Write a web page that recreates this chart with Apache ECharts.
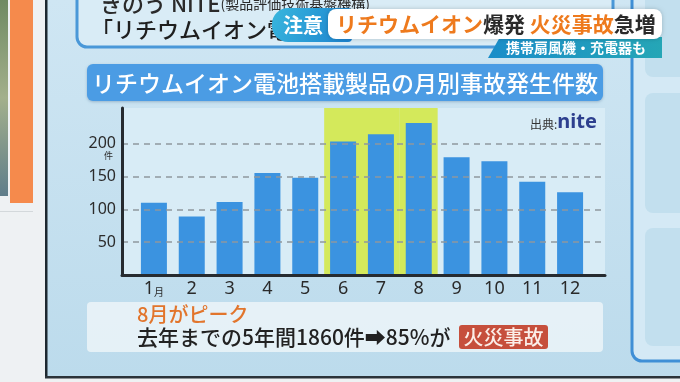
<!DOCTYPE html>
<html><head><meta charset="utf-8">
<script src="https://cdn.jsdelivr.net/npm/echarts@6/dist/echarts.min.js"></script>
<style>html,body{margin:0;padding:0;background:#eef1f3}#c{width:680px;height:382px}</style>
</head><body><div id="c"></div>
<script>
// ---- data ----
const months = ['1','2','3','4','5','6','7','8','9','10','11','12'];
const incidents = [110, 89, 111, 155, 148, 203, 214, 231, 179, 173, 142, 126];
const yTicks = [50, 100, 150, 200];
const yUnit = '件';
const yMax = 254;
const highlightMonths = ['6','7','8'];
const chartTitle = 'リチウムイオン電池搭載製品の月別事故発生件数';
const sourceLabel = '出典:';
const sourceName = 'nite';
const noteHead = '8月がピーク';
const noteBody = '去年までの5年間1860件➡85%が';
const noteTag = '火災事故';
const topLine1a = 'きのう NITE';
const topLine1b = '(製品評価技術基盤機構)';
const topLine2 = '「リチウムイオン電池';
const alertTag = '注意';
const headlineParts = [['o','リチウムイオン'],['d','爆発 '],['o','火災事故'],['d','急増']];
const subHeadline = '携帯扇風機・充電器も';

const JP = '"Noto Sans CJK JP", "Noto Sans", "DejaVu Sans", sans-serif';
const NUM = '"Noto Sans", "Noto Sans CJK JP", sans-serif';

const chart = echarts.init(document.getElementById('c'), null, {renderer:'canvas'});

const bg = [
  {type:'rect', z:-100, shape:{x:0,y:0,width:680,height:382}, style:{fill:'#eef1f3'}},
  {type:'rect', z:-99, shape:{x:0,y:0,width:8,height:196}, style:{fill:new echarts.graphic.LinearGradient(0,0,0,1,[{offset:0,color:'#6f8a62'},{offset:0.5,color:'#a3b08c'},{offset:1,color:'#5f7d8a'}])}},
  {type:'rect', z:-99, shape:{x:10,y:0,width:23,height:203}, style:{fill:'#f58a4c'}},
  {type:'rect', z:-99, shape:{x:0,y:211,width:33,height:1}, style:{fill:'#d3d8db'}},
  {type:'rect', z:-98, shape:{x:46,y:0,width:634,height:377}, style:{fill:new echarts.graphic.LinearGradient(0,0,0,1,[{offset:0,color:'#cfe6f3'},{offset:1,color:'#bcdbec'}])}},
  {type:'rect', z:-97, shape:{x:45,y:0,width:2.5,height:378}, style:{fill:'#1d2830'}},
  {type:'rect', z:-97, shape:{x:45,y:376,width:635,height:2.5}, style:{fill:'#2b3339'}},
  // right panel
  {type:'rect', z:-96, shape:{x:632,y:-20,width:80,height:381,r:10}, style:{fill:'#d4e9f5', stroke:'#3f8fd6', lineWidth:3}},
  {type:'rect', z:-95, shape:{x:645,y:-10,width:50,height:87,r:8}, style:{fill:'#c2dfee'}},
  {type:'rect', z:-95, shape:{x:645,y:93,width:50,height:120,r:8}, style:{fill:'#c2dfee'}},
  {type:'rect', z:-95, shape:{x:645,y:228,width:50,height:118,r:8}, style:{fill:'#c2dfee'}},
  // top box
  {type:'rect', z:-96, shape:{x:77,y:-30,width:536,height:77,r:10}, style:{fill:'#d9ecf6', stroke:'#4a98d8', lineWidth:3}},
  {type:'text', z:-94, x:100, y:4, style:{text:'{a|'+topLine1a+'}{b|'+topLine1b+'}', verticalAlign:'middle', align:'left', rich:{a:{fontSize:22, fontWeight:500, fontFamily:JP, fill:'#2a2a2a'}, b:{fontSize:14, fontFamily:JP, fill:'#2a2a2a'}}}},
  {type:'text', z:-94, x:91, y:30, style:{text:topLine2, fontSize:22, fontWeight:500, fontFamily:JP, fill:'#1f1f1f', align:'left', verticalAlign:'middle'}},
  // title bar
  {type:'rect', z:-90, shape:{x:87,y:64,width:516,height:37,r:6}, style:{fill:'#4b9ce4', shadowBlur:3, shadowColor:'rgba(0,40,90,0.25)', shadowOffsetY:1}},
  {type:'text', z:-89, x:345, y:83, style:{text:chartTitle, fontSize:23, fontWeight:500, fontFamily:JP, fill:'#ffffff', align:'center', verticalAlign:'middle'}},
  // note box
  {type:'rect', z:-90, shape:{x:87,y:302,width:516,height:50,r:4}, style:{fill:'rgba(236,244,248,0.85)'}},
  {type:'text', z:-89, x:137, y:314, style:{text:noteHead, fontSize:20, fontWeight:500, fontFamily:JP, fill:'#e2752c', align:'left', verticalAlign:'middle'}},
  {type:'text', z:-89, x:137, y:337, style:{text:noteBody, fontSize:21, fontWeight:500, fontFamily:JP, fill:'#222', align:'left', verticalAlign:'middle'}},
  {type:'rect', z:-89, shape:{x:459,y:325,width:89,height:24,r:3}, style:{fill:'#c64f3c'}},
  {type:'text', z:-88, x:503.5, y:337, style:{text:noteTag, fontSize:20, fontWeight:500, fontFamily:JP, fill:'#fbeee8', align:'center', verticalAlign:'middle'}},
  // source
  {type:'text', z:50, x:530, y:122, style:{text:'{a|'+sourceLabel+'}{b|'+sourceName+'}', align:'left', verticalAlign:'middle', rich:{a:{fontSize:12, fontFamily:JP, fill:'#333', padding:[4,0,0,0]}, b:{fontSize:20, fontWeight:'bold', fontFamily:NUM, fill:'#2d3f8e'}}}},
  // overlay headline
  {type:'rect', z:100, shape:{x:272,y:8,width:80,height:34,r:[16,4,4,16]}, style:{fill:new echarts.graphic.LinearGradient(0,0,1,1,[{offset:0,color:'#38b6dd'},{offset:1,color:'#1c82cf'}])}},
  {type:'text', z:101, x:303, y:25, style:{text:alertTag, fontSize:20, fontWeight:'bold', fontFamily:JP, fill:'#fff', align:'center', verticalAlign:'middle'}},
  {type:'polygon', z:100, shape:{points:[[500,37],[662,37],[662,58],[488,58]]}, style:{fill:new echarts.graphic.LinearGradient(0,0,1,0,[{offset:0,color:'#1a8dc9'},{offset:1,color:'#25a6b6'}])}},
  {type:'text', z:101, x:576, y:48, style:{text:subHeadline, fontSize:14, fontWeight:'bold', fontFamily:JP, fill:'#fff', align:'center', verticalAlign:'middle'}},
  {type:'rect', z:102, shape:{x:328,y:9,width:334,height:30,r:8}, style:{fill:'#ffffff', shadowBlur:4, shadowColor:'rgba(0,0,0,0.2)'}},
  {type:'text', z:103, x:336, y:24, style:{text:headlineParts.map(p=>'{'+p[0]+'|'+p[1]+'}').join(''), align:'left', verticalAlign:'middle', rich:{o:{fontSize:21, fontWeight:'bold', fontFamily:JP, fill:'#ee7a1d'}, d:{fontSize:21, fontWeight:'bold', fontFamily:JP, fill:'#2a2a2a'}}}}
];

const axisColor = '#262b30';

const option = {
  animation: false,
  backgroundColor: 'transparent',
  graphic: {elements: bg},
  grid: [
    {left:122, right:75, top:108, bottom:107, show:true, backgroundColor:'#d8ecf6', borderWidth:0},
    {left:135, right:91, top:108, bottom:107}
  ],
  xAxis: [
    {type:'value', gridIndex:0, min:0, max:1, z:10,
     axisLine:{show:true, onZero:false, lineStyle:{color:axisColor, width:3}},
     axisTick:{show:false}, axisLabel:{show:false}, splitLine:{show:false}},
    {type:'category', gridIndex:1, data:months, z:10,
     axisLine:{show:false}, axisTick:{show:false}, splitLine:{show:false},
     axisLabel:{interval:0, margin:5, color:'#2a2a2a',
       formatter:(v)=> v==='1' ? '{n|'+v+'}{s|月}' : '{n|'+v+'}',
       rich:{n:{fontSize:18, fontFamily:NUM, color:'#2a2a2a'}, s:{fontSize:10, fontFamily:JP, color:'#2a2a2a', padding:[6,0,0,0]}}}},
    {type:'category', gridIndex:1, data:months, show:false}
  ],
  yAxis: [
    {type:'value', gridIndex:0, min:0, max:yMax, interval:50, z:10,
     axisLine:{show:true, lineStyle:{color:axisColor, width:3}},
     axisTick:{show:false}, splitLine:{show:false},
     axisLabel:{margin:6, align:'right',
       formatter:(v)=> yTicks.includes(v) ? ('{u| }\n{n|'+v+'}\n{u|'+(v===200?yUnit:' ')+'}') : '',
       rich:{n:{fontSize:16, fontFamily:NUM, color:'#2b2b2b', lineHeight:16, align:'right'}, u:{fontSize:9, fontFamily:JP, color:'#2b2b2b', lineHeight:9, align:'right', padding:[0,3,0,0]}}}},
    {type:'value', gridIndex:1, min:0, max:yMax, show:false}
  ],
  series: [
    {type:'line', xAxisIndex:0, yAxisIndex:0, data:[], silent:true, z:1,
     markLine:{symbol:['none','none'], silent:true, label:{show:false},
       lineStyle:{type:[6,5], color:'#8e989f', width:1.5},
       data: yTicks.map(v=>({yAxis:v}))}},
    {type:'bar', xAxisIndex:2, yAxisIndex:1, silent:true, z:2, barWidth:'100%',
     data: months.map(m=> highlightMonths.includes(m) ? yMax : null),
     itemStyle:{color:'#d4e95b'}},
    {type:'bar', xAxisIndex:1, yAxisIndex:1, z:3, barWidth:26,
     data: incidents, itemStyle:{color:'#3b93e0'}}
  ]
};
chart.setOption(option);
</script>
</body></html>
